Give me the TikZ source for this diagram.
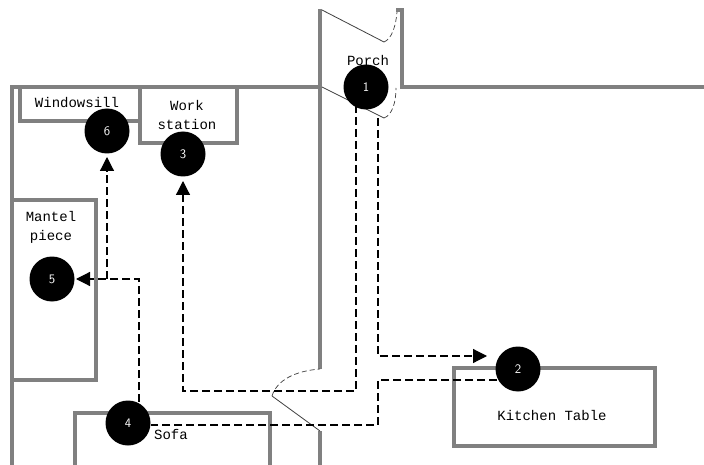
\documentclass[tikz,border=0pt]{standalone}
\usepackage{fontspec}
\setmonofont{Liberation Mono}
\usetikzlibrary{arrows.meta}
\usetikzlibrary{calc}

\begin{document}
\begin{tikzpicture}[x=1pt, y=-1pt]
        % ================= styles =================
        \tikzset{
            % walls and furniture: thick grey
            wall/.style={draw=wallgrey, line width=4pt},
            furniture/.style={draw=wallgrey, line width=4pt, inner sep=0pt},
            % door: thin leaf, dashed swing
            doorleaf/.style={line width=0.8pt, draw=black!75},
            doorswing/.style={line width=0.7pt, draw=black!75, dash pattern=on 5pt off 3pt},
            % numbered stops
            stop/.style={circle, fill=black, text=white, minimum size=45pt, inner sep=0pt, font=\sffamily\fontsize{13}{13}\selectfont},
            % route between stops
            route/.style={line width=1.2pt, dash pattern=on 8pt off 4pt},
            routearrow/.style={route, -{Triangle[length=14pt, width=14pt]}},
            caption/.style={font=\ttfamily\fontsize{14}{19}\selectfont, align=center, inner sep=0pt}
        }
        \definecolor{wallgrey}{gray}{0.5}

        \clip (0,0) rectangle (704,465);
        \fill[white] (0,0) rectangle (704,465);

        % ================= 1. walls =================
        \draw[wall] (12,465) -- (12,87) -- (320,87);
        \draw[wall] (320,9) -- (320,369);
        \draw[wall] (320,431) -- (320,465);
        \draw[wall] (396,10) -- (402,10) -- (402,87) -- (704,87);

        % ================= 2. furniture =================
        \node[furniture, minimum width=120pt, minimum height=34pt] (windowsill) at (80,104) {};
        \node[furniture, minimum width=97pt, minimum height=56pt] (workstation) at (188.5,115) {};
        \node[furniture, minimum width=84pt, minimum height=180pt] (mantel) at (54,290) {};
        \node[furniture, minimum width=195pt, minimum height=80pt] (sofa) at (172.5,453) {};
        \node[furniture, minimum width=201pt, minimum height=78pt] (kitchen) at (554.5,407) {};

        \node[caption] (lwindowsill) at (77,103) {Windowsill};
        \node[caption] (lworkstation) at (187,115) {Work\\station};
        \node[caption] (lmantel) at (51,227) {Mantel\\piece};
        \node[caption] (lsofa) at (171,434) {Sofa};
        \node[caption] (lkitchen) at (552,415) {Kitchen Table};
        \node[caption] (lporch) at (368,60) {Porch};

        % ================= 3. doors =================
        \coordinate (d1a) at (322,10);
        \coordinate (d1b) at (384,42);
        \coordinate (d1c) at (397,12);
        \draw[doorleaf] (d1a) -- (d1b);
        \draw[doorswing] (d1b) .. controls (392,39) and (396,25) .. (d1c);

        \coordinate (d2a) at (322,87);
        \coordinate (d2b) at (384,118);
        \coordinate (d2c) at (396,88);
        \draw[doorleaf] (d2a) -- (d2b);
        \draw[doorswing] (d2b) .. controls (392,115) and (396,103) .. (d2c);

        \coordinate (d3a) at (320,431);
        \coordinate (d3b) at (272,396);
        \coordinate (d3c) at (320,369);
        \draw[doorleaf] (d3a) -- (d3b);
        \draw[doorswing] (d3b) .. controls (277,380) and (295,371) .. (d3c);

        % ================= 4. stops =================
        \node[stop] (s1) at (366,87) {1};
        \node[stop] (s2) at (518,369) {2};
        \node[stop] (s3) at (183,154) {3};
        \node[stop] (s4) at (128,423) {4};
        \node[stop] (s5) at (52,279) {5};
        \node[stop] (s6) at (107,131) {6};

        % ================= 5. routes =================
        % 1 -> 2
        \coordinate (r12) at (378,118);
        \coordinate (e2) at (487,356);
        \draw[routearrow] (r12) |- (e2);
        % 1 -> 3 via the door
        \coordinate (r13) at (356,105);
        \coordinate (e3) at (183,181);
        \draw[routearrow] (r13) -- (356,391) -- (183,391) -- (e3);
        % 2 -> 4
        \coordinate (r24) at (497,380);
        \draw[route] (r24) -- (378,380) -- (378,425) -- (s4.east |- 0,425);
        % 4 -> 5
        \coordinate (r45) at (139,402);
        \coordinate (e5) at (76,279);
        \draw[routearrow] (r45) |- (e5);
        % 5 -> 6
        \coordinate (r56) at (107,279);
        \coordinate (e6) at (107,157);
        \draw[routearrow] (r56) -- (e6);

    \end{tikzpicture}
\end{document}
